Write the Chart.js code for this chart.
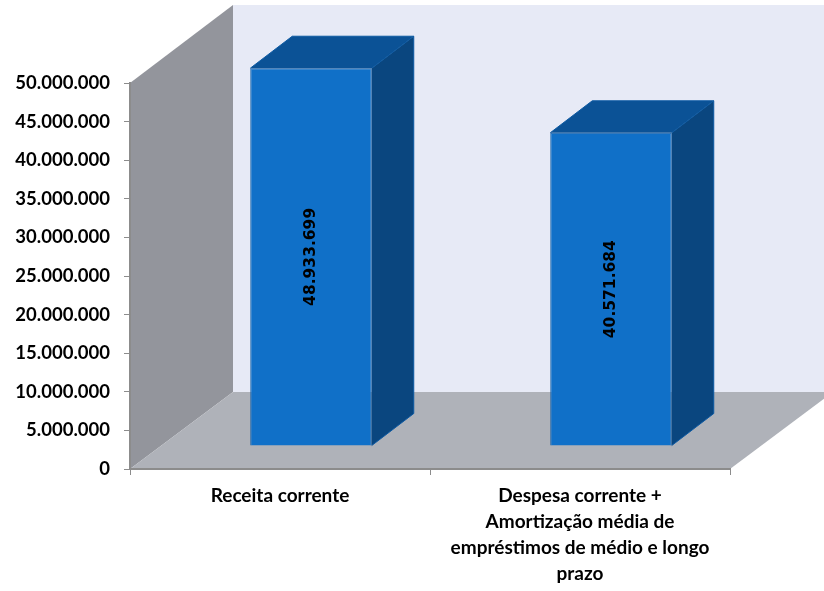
<!DOCTYPE html>
<html lang="pt">
<head>
<meta charset="UTF-8">
<title>Receita corrente vs despesa</title>
<script src="https://cdn.jsdelivr.net/npm/chart.js"></script>
<style>
  * { margin: 0; padding: 0; box-sizing: border-box; }
  body { background: #fff; width: 824px; height: 591px; overflow: hidden; }
  #wrap { position: relative; width: 824px; height: 591px; }
</style>
</head>
<body>
<div id="wrap"><canvas id="chart"></canvas></div>
<script>
  // data
  const categories = [
    ['Receita corrente'],
    ['Despesa corrente +', 'Amortização média de', 'empréstimos de médio e longo', 'prazo']
  ];
  const values = [48933699, 40571684];
  const yMax = 50000000;
  const yStep = 5000000;

  // 3d look
  const WALL_DX = 103, WALL_DY = -77;   // depth of the room
  const BAR_SHIFT_X = 31, BAR_SHIFT_Y = -23; // bars stand a bit inside the floor
  const BAR_DX = 42, BAR_DY = -32;      // depth of each bar

  function fmt(n) {
    return String(Math.round(n)).replace(/\B(?=(\d{3})+(?!\d))/g, '.');
  }

  function poly(ctx, pts, fill) {
    ctx.beginPath();
    ctx.moveTo(pts[0][0], pts[0][1]);
    for (let i = 1; i < pts.length; i++) ctx.lineTo(pts[i][0], pts[i][1]);
    ctx.closePath();
    ctx.fillStyle = fill;
    ctx.fill();
  }

  const room = {
    id: 'room',
    beforeDraw(chart) {
      const ctx = chart.ctx;
      const { left: L, right: R, top: T, bottom: B } = chart.chartArea;
      const W = chart.width;
      ctx.save();
      ctx.fillStyle = '#fff';
      ctx.fillRect(0, 0, W, chart.height);
      // back wall
      poly(ctx, [[L + WALL_DX, T + WALL_DY - 1], [W, T + WALL_DY - 1], [W, B + WALL_DY], [L + WALL_DX, B + WALL_DY]], '#e7eaf6');
      // left wall
      poly(ctx, [[L, T], [L + WALL_DX, T + WALL_DY - 1], [L + WALL_DX, B + WALL_DY], [L, B]], '#93959c');
      // floor
      poly(ctx, [[L, B], [L + WALL_DX, B + WALL_DY], [R + WALL_DX, B + WALL_DY], [R, B]], '#afb2b9');
      ctx.restore();
    },
    beforeDatasetsDraw(chart) {
      chart.ctx.save();
      chart.ctx.translate(BAR_SHIFT_X, BAR_SHIFT_Y);
    },
    afterDatasetsDraw(chart) {
      const ctx = chart.ctx;
      const meta = chart.getDatasetMeta(0);
      meta.data.forEach((bar, i) => {
        const p = bar.getProps(['x', 'y', 'base', 'width'], true);
        const l = p.x - p.width / 2, r = p.x + p.width / 2;
        // top face
        poly(ctx, [[l, p.y], [l + BAR_DX, p.y + BAR_DY], [r + BAR_DX, p.y + BAR_DY], [r, p.y]], '#0b5296');
        // side face
        poly(ctx, [[r, p.y], [r + BAR_DX, p.y + BAR_DY], [r + BAR_DX, p.base + BAR_DY], [r, p.base]], '#0a467f');
        ctx.strokeStyle = '#0d5aa3';
        ctx.lineWidth = 1;
        ctx.beginPath();
        ctx.moveTo(l, p.y); ctx.lineTo(l + BAR_DX, p.y + BAR_DY); ctx.lineTo(r + BAR_DX, p.y + BAR_DY);
        ctx.lineTo(r + BAR_DX, p.base + BAR_DY); ctx.lineTo(r, p.base);
        ctx.moveTo(r, p.y); ctx.lineTo(r + BAR_DX, p.y + BAR_DY);
        ctx.stroke();
        // value label
        ctx.save();
        ctx.translate(p.x, (p.y + p.base) / 2);
        ctx.rotate(-Math.PI / 2);
        ctx.fillStyle = '#000';
        ctx.font = 'bold 15.5px "DejaVu Sans"';
        ctx.textAlign = 'center';
        ctx.textBaseline = 'middle';
        ctx.fillText(fmt(values[i]), 0, 0);
        ctx.restore();
      });
      ctx.restore();
    }
  };

  new Chart(document.getElementById('chart'), {
    type: 'bar',
    data: {
      labels: categories,
      datasets: [{
        data: values,
        backgroundColor: '#1070c8',
        borderColor: '#0d5aa3',
        borderWidth: 1,
        barPercentage: 0.81,
        categoryPercentage: 0.5,
        clip: false
      }]
    },
    options: {
      responsive: true,
      maintainAspectRatio: false,
      animation: false,
      layout: { padding: { top: 83, right: 94, left: 0, bottom: 0 } },
      plugins: { legend: { display: false }, tooltip: { enabled: false } },
      scales: {
        x: {
          afterFit(scale) { scale.height = 122; },
          grid: { drawOnChartArea: false, drawTicks: true, tickLength: 6, color: '#8c8c8c', offset: true },
          border: { display: true, color: '#8c8c8c', width: 2 },
          ticks: {
            color: '#000', padding: 8, maxRotation: 0, autoSkip: false,
            font: { family: 'Lato', weight: 'bold', size: 19, lineHeight: 1.37 }
          }
        },
        y: {
          min: 0, max: yMax,
          afterFit(scale) { scale.width = 130; },
          grid: { drawOnChartArea: false, drawTicks: true, tickLength: 6, color: '#8c8c8c' },
          border: { display: true, color: '#8c8c8c', width: 2 },
          ticks: {
            stepSize: yStep, color: '#000', padding: 14,
            font: { family: 'Lato', weight: 'bold', size: 18.5 },
            callback: v => fmt(v)
          }
        }
      }
    },
    plugins: [room]
  });
</script>
</body>
</html>
